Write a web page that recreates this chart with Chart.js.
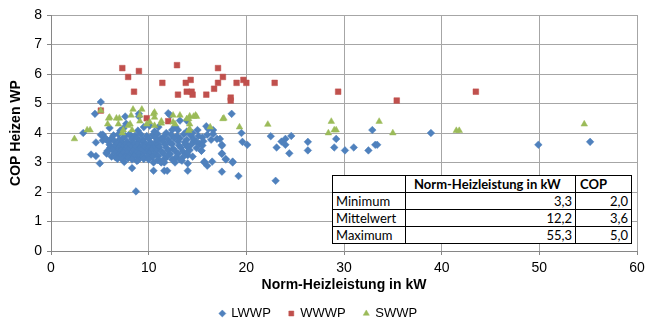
<!DOCTYPE html>
<html>
<head>
<meta charset="utf-8">
<script src="https://cdn.jsdelivr.net/npm/chart.js@4/dist/chart.umd.min.js"></script>
<style>
  html, body { margin: 0; padding: 0; background: #fff; }
  #wrap { position: relative; width: 654px; height: 322px; }
  #copChart { position: absolute; left: 0; top: 0; }
  #statTable {
    position: absolute; left: 332px; top: 175px; width: 300px;
    border-collapse: collapse; background: #fff;
    font-family: Lato, "Open Sans", sans-serif; font-size: 13px; color: #000;
  }
  #statTable td { border: 1px solid #000; height: 16px; padding: 0 3px; line-height: 16px; }
  #statTable td.num { text-align: right; }
  #statTable td.head { font-weight: bold; text-align: left; padding-left: 8px; }
</style>
</head>
<body>
<div id="wrap">
  <canvas id="copChart" width="654" height="322"></canvas>
  <table id="statTable"></table>
</div>
<script>
// LWWP (Luft/Wasser), [kW, COP]
const lwwpPoints = [
  [5.1,5.05],[4.5,4.65],[7.6,4.56],[9.0,4.65],[9.0,4.56],[12.0,4.67],[12.2,4.6],[13.9,4.42],[18.5,4.65],
  [3.3,4.0],[4.6,3.68],[4.1,3.27],[4.6,3.22],[5.0,2.97],[8.3,2.81],[10.5,2.72],[11.6,2.72],[11.9,2.72],
  [14.0,2.72],[17.5,2.69],[19.2,2.54],[8.7,2.02],[19.5,4.0],[19.6,3.7],[20.1,3.6],[15.9,4.23],[16.6,4.1],
  [16.6,3.97],[17.3,3.8],[17.5,3.6],[17.5,3.31],[17.9,3.12],[18.6,3.03],[16.5,3.03],[15.7,3.03],[16.0,2.89],
  [15.4,3.4],[15.2,3.63],[14.6,3.72],[13.9,3.77],[13.8,3.63],[6.1,3.51],[5.7,3.34],[5.5,3.85],[5.3,3.75],
  [5.1,3.94],[7.1,4.08],[7.7,4.31],[8.9,4.08],[10.1,4.25],[11.0,4.2],[12.7,4.22],[13.2,4.42],[6.0,4.17],
  [16.0,3.94],[16.1,4.14],[16.4,3.77],[17.0,3.8],[17.5,3.57],[13.0,4.1],[13.9,4.05],[14.0,3.25],[17.5,3.29],
  [17.9,3.1],[7.4,4.15],[8.0,3.95],[9.5,4.2],[10.6,4.05],[11.8,4.0],[12.4,4.1],[14.5,4.0],[15.0,4.1],[15.5,3.85],
  [10.5,3.0],[11.3,3.0],[11.6,3.0],[12.7,3.0],[13.4,3.06],[14.0,2.97],[15.7,3.0],[18.6,3.0],
  // dense core
  [5.3,3.95],[6.4,3.92],[6.9,3.96],[7.6,3.9],[8.1,3.94],[8.6,3.91],[9.2,3.95],[9.8,3.9],[10.4,3.93],
  [10.9,3.97],[11.6,3.9],[12.3,3.94],[12.9,3.9],[13.6,3.96],[14.3,3.92],[15.1,3.9],
  [5.6,3.8],[6.2,3.82],[7.0,3.78],[7.4,3.84],[8.3,3.8],[8.8,3.83],[9.4,3.78],[10.0,3.81],[10.7,3.84],
  [11.2,3.8],[11.4,3.8],[12.0,3.78],[12.6,3.83],[13.2,3.82],[14.6,3.8],
  [5.9,3.7],[6.5,3.72],[7.2,3.68],[7.8,3.71],[8.4,3.69],[9.0,3.73],[9.5,3.7],[10.2,3.68],[10.8,3.72],
  [11.5,3.7],[12.2,3.67],[13.0,3.71],[13.7,3.69],[14.9,3.7],[15.6,3.72],
  [6.0,3.6],[6.7,3.62],[7.1,3.58],[7.6,3.61],[8.0,3.59],[8.5,3.63],[8.9,3.6],[9.3,3.57],[9.7,3.62],
  [10.1,3.6],[10.6,3.58],[11.0,3.61],[11.7,3.6],[12.4,3.63],[13.1,3.58],[13.8,3.6],[14.4,3.62],[15.5,3.58],
  [6.1,3.5],[6.4,3.52],[6.9,3.48],[7.3,3.51],[7.7,3.49],[8.2,3.52],[8.6,3.5],[9.1,3.47],[9.6,3.51],
  [10.0,3.5],[10.5,3.48],[11.1,3.52],[11.8,3.5],[12.5,3.47],[13.3,3.5],[14.0,3.52],[14.9,3.49],
  [5.8,3.4],[6.3,3.42],[6.8,3.38],[7.2,3.41],[7.5,3.39],[7.9,3.42],[8.4,3.4],[8.8,3.38],[9.2,3.41],
  [9.9,3.39],[10.3,3.42],[10.8,3.4],[11.3,3.38],[12.0,3.41],[12.7,3.4],[13.5,3.38],[14.2,3.42],[15.4,3.4],
  [5.7,3.3],[6.6,3.31],[7.0,3.28],[7.4,3.32],[7.8,3.3],[8.2,3.27],[8.7,3.31],[9.0,3.29],[9.5,3.32],
  [10.1,3.3],[10.6,3.28],[11.5,3.31],[12.2,3.29],[13.0,3.3],[13.9,3.32],
  [6.2,3.2],[6.6,3.18],[7.1,3.21],[7.6,3.19],[8.0,3.22],[8.5,3.2],[9.0,3.18],[9.4,3.21],[9.9,3.2],
  [10.4,3.19],[11.0,3.22],[11.9,3.2],[12.8,3.18],[13.6,3.21],[14.5,3.2],
  [6.8,3.12],[7.3,3.1],[7.9,3.15],[8.3,3.1],[8.9,3.08],[9.5,3.12],[10.0,3.1],[10.9,3.08],[11.6,3.12],
  [12.4,3.1],[13.2,3.1],[7.5,3.02],[8.8,3.05],[11.2,3.03],[11.5,3.04],
  // far range
  [22.5,3.89],[23.1,3.51],[23.6,3.71],[24.0,3.8],[24.0,3.6],[24.6,3.9],[24.4,3.31],[26.3,3.7],[26.3,3.41],
  [29.2,3.8],[29.0,3.51],[30.1,3.41],[31.0,3.51],[32.5,3.41],[32.9,4.1],[33.2,3.6],[33.4,3.6],[23.0,2.38],
  [38.9,4.0],[49.9,3.6],[55.2,3.7]
];

// WWWP (Wasser/Wasser)
const wwwpPoints = [
  [7.3,6.2],[7.9,5.9],[9.0,6.1],[8.5,5.4],[11.4,5.7],[12.9,6.3],[13.0,5.3],[13.8,5.7],[14.3,5.8],
  [13.9,5.4],[14.4,5.4],[14.5,5.3],[15.9,5.3],[16.7,5.5],[17.1,6.2],[17.1,5.7],[17.6,5.9],[18.4,5.2],
  [18.4,5.1],[19.0,5.7],[19.7,5.8],[20.0,5.7],[22.9,5.7],[29.4,5.4],[35.4,5.1],[43.5,5.4],
  [5.1,4.76],[9.8,4.5],[12.0,4.4]
];

// SWWP (Sole/Wasser)
const swwpPoints = [
  [2.4,3.8],[3.7,4.1],[4.0,4.1],[5.1,4.76],[5.9,4.5],[5.8,4.3],[6.7,4.5],[7.0,4.5],[7.4,4.1],[7.9,4.25],
  [8.2,4.6],[8.4,4.8],[9.1,4.4],[9.3,4.8],[10.6,4.7],[11.3,4.4],[12.5,4.37],[13.2,4.6],[13.9,4.48],
  [14.2,4.57],[14.8,4.6],[14.2,4.14],[16.3,4.2],[17.7,4.5],[19.3,4.2],[6.9,4.3],[7.3,4.0],[8.1,4.3],
  [8.3,4.1],[9.8,4.3],[10.1,4.37],[10.5,4.65],[10.6,4.25],[11.3,4.33],[12.5,4.6],[12.7,4.3],[14.1,4.48],
  [14.2,4.3],[14.6,4.56],[14.9,4.56],[14.1,4.08],[17.6,4.48],[9.1,4.6],[6.0,4.53],[10.6,4.53],
  [22.2,4.29],[28.7,4.39],[28.4,4.0],[29.0,4.1],[29.2,4.1],[33.6,4.39],[35.0,4.0],[41.5,4.08],[41.8,4.08],[54.6,4.3]
];

const xTicks = [0, 10, 20, 30, 40, 50, 60];
const yTicks = [0, 1, 2, 3, 4, 5, 6, 7, 8];

const tableHeader = ["", "Norm-Heizleistung in kW", "COP"];
const tableRows = ["Minimum", "Mittelwert", "Maximum"];
const tablePower = ["3,3", "12,2", "55,3"];
const tableCop = ["2,0", "3,6", "5,0"];

function toXY(list) {
  return list.map(p => ({ x: p[0], y: p[1] }));
}

function renderTable() {
  const table = document.getElementById("statTable");
  let html = `<tr>
    <td style="width:66px"></td>
    <td class="head" style="width:158px">${tableHeader[1]}</td>
    <td class="head" style="padding-left:4px">${tableHeader[2]}</td>
  </tr>`;
  html += tableRows.map((row, i) => `
    <tr>
      <td>${row}</td>
      <td class="num">${tablePower[i]}</td>
      <td class="num">${tableCop[i]}</td>
    </tr>`).join("");
  table.innerHTML = html;
}

function renderChart() {
  const ctx = document.getElementById("copChart");
  const family = "'Liberation Sans', Arial, sans-serif";
  const tickFont = { family, size: 14 };
  const titleFont = { family, size: 14, weight: "bold" };

  new Chart(ctx, {
    type: "scatter",
    data: {
      datasets: [
        {
          label: "LWWP",
          data: toXY(lwwpPoints),
          pointStyle: "rectRot",
          pointRadius: 3.8,
          backgroundColor: "#4F81BD",
          borderColor: "#4F81BD",
          borderWidth: 0.5,
          order: 3,
        },
        {
          label: "WWWP",
          data: toXY(wwwpPoints),
          pointStyle: "rect",
          pointRadius: 4,
          backgroundColor: "#C0504D",
          borderColor: "#C0504D",
          borderWidth: 0.5,
          order: 2,
        },
        {
          label: "SWWP",
          data: toXY(swwpPoints),
          pointStyle: "triangle",
          pointRadius: 3.8,
          backgroundColor: "#9BBB59",
          borderColor: "#9BBB59",
          borderWidth: 0.5,
          order: 1,
        },
      ],
    },
    options: {
      responsive: false,
      animation: false,
      layout: { padding: { top: 15, right: 17, left: 0, bottom: -8 } },
      plugins: {
        tooltip: { enabled: false },
        legend: {
          position: "bottom",
          labels: {
            usePointStyle: true,
            boxWidth: 5,
            boxHeight: 5,
            padding: 18,
            color: "#000",
            font: { family, size: 13 },
            sort: (a, b) => a.datasetIndex - b.datasetIndex,
          },
        },
      },
      scales: {
        x: {
          type: "linear",
          min: 0,
          max: 60,
          afterBuildTicks: scale => { scale.ticks = xTicks.map(v => ({ value: v })); },
          afterFit: scale => { scale.height = 38; },
          ticks: { color: "#000", font: tickFont, padding: 5 },
          grid: { color: "#a6a6a6", tickLength: 4, tickColor: "#868686" },
          border: { color: "#868686" },
          title: {
            display: true,
            text: "Norm-Heizleistung in kW",
            color: "#000",
            font: titleFont,
            padding: { top: 0, bottom: -5 },
          },
        },
        y: {
          type: "linear",
          min: 0,
          max: 8,
          afterBuildTicks: scale => { scale.ticks = yTicks.map(v => ({ value: v })); },
          afterFit: scale => { scale.width = 51; },
          ticks: { color: "#000", font: tickFont, padding: 5 },
          grid: { color: "#a6a6a6", tickLength: 4, tickColor: "#868686" },
          border: { color: "#868686" },
          title: {
            display: true,
            text: "COP Heizen WP",
            color: "#000",
            font: titleFont,
            padding: { top: 8, bottom: 0 },
          },
        },
      },
    },
  });
}

renderTable();
renderChart();
</script>
</body>
</html>
